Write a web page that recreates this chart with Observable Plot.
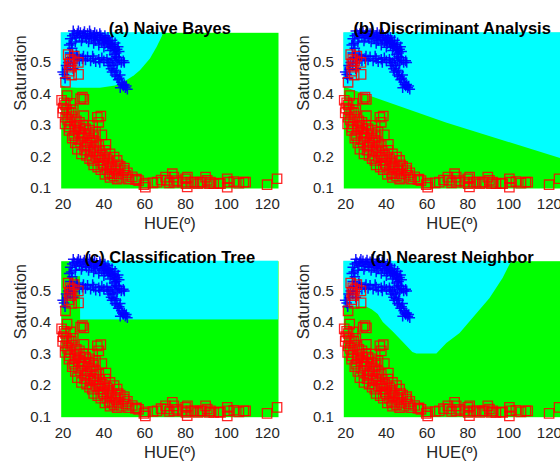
<!DOCTYPE html>
<html><head><meta charset="utf-8">
<script src="https://cdn.jsdelivr.net/npm/d3@7"></script>
<script src="https://cdn.jsdelivr.net/npm/@observablehq/plot@0.6"></script>
<style>
body{margin:0;background:#fff;}
#wrap{position:relative;width:560px;height:462px;overflow:hidden;background:#fff;}
.panel{position:absolute;}
.panel svg{overflow:visible;display:block;}
</style></head><body><div id="wrap"></div>
<script>
const titles = ["(a) Naive Bayes", "(b) Discriminant Analysis", "(c) Classification Tree", "(d) Nearest Neighbor"];
const xTicks = [20, 40, 60, 80, 100, 120];
const yTicks = [0.1, 0.2, 0.3, 0.4, 0.5];
const xLabel = "HUE(º)";
const yLabel = "Saturation";
const xDomain = [19.1, 125.5];
const yDomain = [0.1, 0.594];

// class 1 (blue +): [hue, saturation]
const bluePoints = [
 [23.5,0.575],[24.5,0.585],[25.5,0.59],[26.5,0.58],[27,0.592],[28,0.585],[28.5,0.595],[29.5,0.578],[30,0.59],[31,0.585],
 [31.5,0.575],[32,0.592],[33,0.582],[33.5,0.59],[34,0.575],[35,0.585],[35.5,0.578],[36,0.57],[36.5,0.588],[37,0.58],
 [38,0.572],[38.5,0.585],[39,0.565],[39.5,0.578],[40,0.57],[40.5,0.56],[41,0.575],[41.5,0.565],[42,0.555],[42.5,0.568],
 [43,0.56],[43.5,0.55],[44,0.556],[44.5,0.545],[45,0.55],[45.5,0.538],[46,0.53],[46.5,0.542],
 [25,0.6],[27.5,0.6],[30.5,0.598],[33,0.6],[35.5,0.595],[38,0.592],[40.5,0.585],[42,0.58],[44,0.57],[45.5,0.562],
 [47,0.55],[47.5,0.535],[26,0.565],[29,0.568],[32.5,0.565],[35,0.56],[37.5,0.555],[40,0.548],[43,0.538],[45,0.525],[46,0.518],
 [24,0.515],[25.5,0.51],[27,0.52],[28,0.505],[29.5,0.512],[31,0.508],[32,0.518],[33.5,0.505],[35,0.512],[36,0.502],
 [37.5,0.51],[39,0.515],[40,0.505],[41.5,0.51],[43,0.5],[44,0.512],[45.5,0.505],[46.5,0.495],[47.5,0.508],[48.5,0.5],[49.5,0.505],
 [26.5,0.525],[30,0.52],[34.5,0.52],[38,0.5],[42,0.5],[47,0.515],[50,0.5],
 [42.5,0.49],[43.5,0.48],[44,0.47],[45,0.475],[45.5,0.46],[46.5,0.455],[47,0.445],[47.5,0.45],[48.5,0.437],[49,0.43],
 [49.5,0.425],[50.5,0.42],[51.5,0.415],[44.5,0.49],[46,0.47],[48,0.46],[50,0.43],[48,0.42],[51,0.425],
 [19.8,0.47],[20.5,0.462],[21.5,0.49],[22.5,0.5],[23.5,0.53],[24.5,0.545],[22,0.478],[25,0.498],
 [23,0.555],[24,0.56],[25,0.48],[21,0.45],[23.5,0.49]
];

// class 2 (red squares): [hue, saturation]
const redPoints = [
 [22.5,0.525],[23.5,0.51],[23,0.495],[24.5,0.505],[25.5,0.52],[27.5,0.50],[23.8,0.485],[24.2,0.46],[27.6,0.462],[21.2,0.437],[23,0.472],
 [19.3,0.38],[22,0.395],[28.6,0.385],[30.2,0.383],[29.5,0.39],[21.2,0.365],[23.7,0.37],[20.5,0.372],[22.9,0.342],[21.2,0.326],
 [24.5,0.328],[30.2,0.331],[36.8,0.326],[37.5,0.31],[23.7,0.305],[26.1,0.295],[22.9,0.284],[27.7,0.279],[31,0.29],[25.3,0.268],
 [29.4,0.263],[32.6,0.274],[35.9,0.279],[28.6,0.247],[31.8,0.247],[34.3,0.253],[31,0.231],[35.1,0.231],[37.5,0.236],[33.4,0.215],
 [36.8,0.21],[39.2,0.205],[40.8,0.221],[34.3,0.189],[38.3,0.189],[41.6,0.194],[46.5,0.189],[40,0.173],[43.3,0.168],[45.7,0.163],
 [49.8,0.157],[44.1,0.147],[47.3,0.147],[50.6,0.142],[53.9,0.137],
 [21.8,0.35],[22.3,0.318],[24,0.34],[25,0.35],[26.5,0.315],[27,0.3],[28,0.31],[25.8,0.285],[28.5,0.29],[30,0.3],
 [29,0.275],[30.5,0.268],[33,0.26],[27.5,0.258],[32,0.238],[33.5,0.245],[36,0.245],[30.5,0.222],[34.8,0.22],[38,0.22],
 [36,0.2],[37.5,0.198],[40,0.2],[42.5,0.185],[39.5,0.18],[41.5,0.16],[44,0.175],[46,0.155],[48,0.17],[42.5,0.15],
 [45,0.14],[48.5,0.135],[52,0.13],[55.5,0.128],[56,0.13],[34.5,0.3],[33,0.285],[35,0.265],
 [20,0.355],[19.8,0.34],[21,0.305],[23,0.295],[24.5,0.26],[26,0.245],[27,0.225],[29,0.21],[31.5,0.205],[33,0.195],
 [35,0.175],[37,0.168],[38.5,0.16],[40.5,0.145],[43,0.135],[38.5,0.33],[39,0.27],[41,0.24],[43,0.21],[45,0.2],
 [47,0.175],[50,0.165],[51.5,0.15],[46.5,0.13],
 [57,0.125],[59.6,0.112],[60.3,0.117],[60.3,0.104],[64,0.118],[66,0.12],[68,0.127],[70.2,0.136],[70.9,0.126],[72,0.118],
 [73.5,0.147],[74.3,0.136],[74.3,0.12],[76,0.125],[78.4,0.12],[80,0.131],[80.2,0.115],[80.8,0.105],[80.9,0.136],[82.5,0.12],
 [84.1,0.12],[86,0.115],[87.3,0.12],[88.1,0.12],[89.8,0.136],[90.6,0.126],[91.5,0.115],[92.2,0.12],[93.8,0.115],[96.3,0.117],
 [97.1,0.115],[100.4,0.131],[100.4,0.104],[101,0.12],[103.6,0.122],[106.1,0.117],[108.5,0.12],[109.4,0.12],[119.9,0.112],[124.8,0.131]
];

// lower boundary of the cyan (class 1) region: [hue, saturation]
const nbBoundary = [[19.1,0.427],[22,0.42],[26.9,0.418],[38.3,0.418],[45.7,0.425],[51.4,0.443],[55,0.458],[58,0.474],[62.8,0.511],[66.1,0.548],[68.5,0.58],[69.3,0.594]];
const daBoundary = [[19.1,0.422],[69.5,0.308],[125.5,0.195]];
const knnBoundary = [[19.1,0.45],[30,0.45],[33,0.44],[36,0.425],[38.5,0.40],[43.4,0.37],[49.3,0.33],[53,0.305],[55,0.30],[64.8,0.30],[69.7,0.333],[76.2,0.365],[82.6,0.413],[90.9,0.476],[97.3,0.539],[101.6,0.594]];
// tree leaves assigned to class 1: [hue1, hue2, sat1, sat2]
const treeBoxes = [[28.6,125.5,0.408,0.594],[23.5,28.6,0.545,0.594]];

const GREEN = "#00ff00", CYAN = "#00ffff";
const FONT = "'Liberation Sans', Arial, Helvetica, sans-serif";

function regionMarks(i) {
  if (i === 0) return [Plot.areaY(nbBoundary, {x: d => d[0], y1: d => d[1], y2: yDomain[1], fill: CYAN, fillOpacity: 1})];
  if (i === 1) return [Plot.areaY(daBoundary, {x: d => d[0], y1: d => d[1], y2: yDomain[1], fill: CYAN, fillOpacity: 1})];
  if (i === 2) return [Plot.rect(treeBoxes, {x1: d => d[0], x2: d => d[1], y1: d => d[2], y2: d => d[3], fill: CYAN, inset: 0})];
  return [Plot.areaY(knnBoundary, {x: d => d[0], y1: d => d[1], y2: yDomain[1], fill: CYAN, fillOpacity: 1})];
}

const layout = [
  {left: 0,   top: 0,   ml: 60.7, mr: 2, mt: 32.3, mb: 43},
  {left: 280, top: 0,   ml: 63.3, mr: 0, mt: 32.3, mb: 43},
  {left: 0,   top: 231, ml: 60.7, mr: 2, mt: 29.7, mb: 45.3},
  {left: 280, top: 231, ml: 63.3, mr: 0, mt: 29.7, mb: 45.3}
];

const wrap = document.getElementById("wrap");
layout.forEach((L, i) => {
  const chart = Plot.plot({
    width: 280, height: 231,
    marginLeft: L.ml, marginRight: L.mr, marginTop: L.mt, marginBottom: L.mb,
    style: {fontFamily: FONT, background: "transparent", overflow: "visible"},
    x: {domain: xDomain, ticks: xTicks},
    y: {domain: yDomain, ticks: yTicks},
    marks: [
      Plot.frame({fill: GREEN, stroke: null}),
      ...regionMarks(i),
      Plot.dot(bluePoints, {x: d => d[0], y: d => d[1], symbol: "plus", r: 3.5, stroke: "#0000ff", strokeWidth: 1.5, strokeOpacity: 0.9}),
      Plot.dot(redPoints, {x: d => d[0], y: d => d[1], symbol: "square", r: 5.3, fill: "none", stroke: "#ff0000", strokeWidth: 1.3, strokeOpacity: 0.85}),
      Plot.axisX({ticks: xTicks, tickSize: 0, tickPadding: 10, fontSize: 15, color: "#262626", label: null}),
      Plot.axisY({ticks: yTicks, tickSize: 0, tickPadding: 10, fontSize: 15, color: "#262626", label: null, tickFormat: d3.format(".1f")}),
      Plot.text([titles[i]], {frameAnchor: "top", text: d => d, dy: -10.3, fontSize: 16.5, fontWeight: "bold", fill: "#000"}),
      Plot.text([xLabel], {frameAnchor: "bottom", text: d => d, dy: 40.5, fontSize: 16.5, fill: "#262626"}),
      Plot.text([yLabel], {frameAnchor: "left", text: d => d, dx: -40, rotate: -90, fontSize: 16.5, fill: "#262626"})
    ]
  });
  const div = document.createElement("div");
  div.className = "panel";
  div.style.left = L.left + "px";
  div.style.top = L.top + "px";
  div.appendChild(chart);
  wrap.appendChild(div);
});
</script></body></html>
